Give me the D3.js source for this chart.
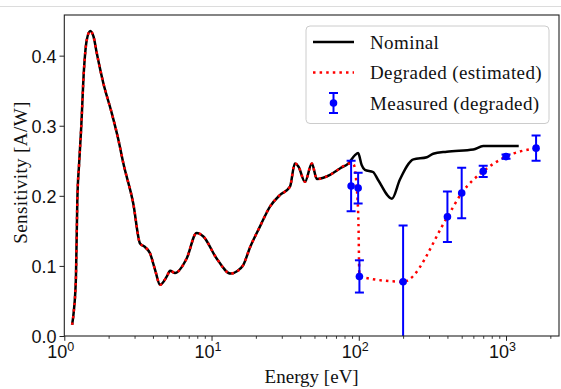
<!DOCTYPE html>
<html>
<head>
<meta charset="utf-8">
<script src="https://cdn.jsdelivr.net/npm/d3@7"></script>
<style>
  html, body { margin: 0; padding: 0; background: #fff; }
  svg { display: block; font-family: 'Liberation Serif', 'DejaVu Serif', serif; }
</style>
</head>
<body>
<div id="chart"></div>
<script>
// nominal sensitivity curve (energy in eV, sensitivity in A/W)
const nominalE = [1.13, 1.16, 1.20, 1.226, 1.26, 1.30, 1.36, 1.42, 1.50, 1.58, 1.66, 1.84, 2.10, 2.33,
  2.52, 2.94, 3.27, 3.53, 3.82, 4.14, 4.47, 4.97, 5.23, 5.65, 6.79, 7.92, 8.8, 10.8, 13.5, 14.8,
  16.4, 18.3, 21.3, 25.0, 29.1, 34.1, 36.8, 38.9, 43.1, 48.0, 51.9, 63.8, 74.5, 84.9, 94.2, 99,
  104.6, 110, 125, 135, 168, 190, 235, 290, 320, 396, 600, 700, 1220];
const nominalS = [0.016, 0.035, 0.085, 0.194, 0.245, 0.294, 0.380, 0.422, 0.435, 0.427, 0.404, 0.361, 0.318, 0.280,
  0.246, 0.189, 0.132, 0.127, 0.118, 0.094, 0.073, 0.085, 0.093, 0.090, 0.111, 0.147, 0.142, 0.111, 0.089, 0.092,
  0.101, 0.127, 0.156, 0.185, 0.201, 0.213, 0.246, 0.242, 0.220, 0.246, 0.224, 0.230, 0.239, 0.246, 0.258, 0.261,
  0.244, 0.237, 0.234, 0.223, 0.196, 0.223, 0.252, 0.255, 0.260, 0.263, 0.266, 0.271, 0.271];

// degraded (estimated): follows nominal up to ~85 eV, then this tail
const degradedSplitIndex = 44; // first 44 nominal points are shared
const degradedTailE = [92, 97, 99.5, 101, 200, 400, 500, 700, 1000, 1600];
const degradedTailS = [0.245, 0.21, 0.16, 0.085, 0.0775, 0.170, 0.204, 0.235, 0.256, 0.268];

// measured (degraded) points with error bars
const measuredE = [88.7, 99, 101, 200, 400, 500, 700, 1000, 1600];
const measuredS = [0.214, 0.211, 0.085, 0.0775, 0.170, 0.204, 0.235, 0.256, 0.268];
const measuredErr = [0.036, 0.022, 0.023, 0.080, 0.036, 0.036, 0.008, 0.003, 0.018];

const xTicks = [1, 10, 100, 1000];
const xTickExp = ['0', '1', '2', '3'];
const yTicks = [0, 0.1, 0.2, 0.3, 0.4];
const legendLabels = ['Nominal', 'Degraded (estimated)', 'Measured (degraded)'];

const W = 561, H = 389;
const margin = { top: 15, right: 2, bottom: 53, left: 64.3 };
const width = W - margin.left - margin.right;
const height = H - margin.top - margin.bottom;
const textColor = '#111';

const svg = d3.select('#chart').append('svg').attr('width', W).attr('height', H);

// faint line along the top of the page
svg.append('line')
  .attr('x1', 0).attr('x2', W).attr('y1', 6.5).attr('y2', 6.5)
  .attr('stroke', '#dcdcdc').attr('stroke-width', 1.2);

const g = svg.append('g').attr('transform', `translate(${margin.left},${margin.top})`);

const x = d3.scaleLog().domain([1, 2290]).range([0, width]);
const y = d3.scaleLinear().domain([0, 0.458]).range([height, 0]);

g.append('clipPath').attr('id', 'plotClip')
  .append('rect').attr('width', width).attr('height', height);

// minor x ticks
const minorTicks = [];
for (let dec = 1; dec <= 1000; dec *= 10) {
  for (let k = 2; k <= 9; k++) {
    if (k * dec < 2290) minorTicks.push(k * dec);
  }
}
g.append('g')
  .attr('transform', `translate(0,${height})`)
  .call(d3.axisBottom(x).tickValues(minorTicks).tickSize(2.8).tickFormat(''))
  .call((a) => a.select('.domain').remove())
  .selectAll('line').attr('stroke', '#222').attr('stroke-width', 0.9);

// major x ticks with superscript labels
const xAxis = g.append('g')
  .attr('transform', `translate(0,${height})`)
  .call(d3.axisBottom(x).tickValues(xTicks).tickSize(4.8).tickFormat(''));
xAxis.select('.domain').remove();
xAxis.selectAll('line').attr('stroke', '#222').attr('stroke-width', 1);
xAxis.selectAll('.tick').each(function (d, i) {
  const t = d3.select(this).append('text')
    .attr('y', 22).attr('x', -4)
    .attr('fill', textColor)
    .attr('font-size', 18)
    .attr('text-anchor', 'middle');
  t.append('tspan').text('10');
  t.append('tspan').attr('dy', -7).attr('font-size', 12.5).text(xTickExp[i]);
});

// y axis
const yAxis = g.append('g')
  .call(d3.axisLeft(y).tickValues(yTicks).tickSize(4.8).tickPadding(3).tickFormat(d3.format('.1f')));
yAxis.select('.domain').remove();
yAxis.selectAll('line').attr('stroke', '#222').attr('stroke-width', 1);
yAxis.selectAll('text')
  .attr('fill', textColor)
  .attr('font-size', 18)
  .attr('font-family', null)
  .attr('dy', '0.36em');

// axis labels
svg.append('text')
  .attr('x', margin.left + width / 2).attr('y', 383)
  .attr('text-anchor', 'middle').attr('font-size', 19).attr('fill', textColor)
  .text('Energy [eV]');
svg.append('text')
  .attr('transform', 'translate(26.5,172.5) rotate(-90)')
  .attr('text-anchor', 'middle').attr('font-size', 19).attr('letter-spacing', 0.4)
  .attr('fill', textColor)
  .text('Sensitivity [A/W]');

// data series
const nominal = nominalE.map((e, i) => [e, nominalS[i]]);
const degraded = nominal.slice(0, degradedSplitIndex)
  .concat(degradedTailE.map((e, i) => [e, degradedTailS[i]]));
const measured = measuredE.map((e, i) => ({ e: e, s: measuredS[i], err: measuredErr[i] }));

const line = d3.line().x((d) => x(d[0])).y((d) => y(d[1])).curve(d3.curveMonotoneX);

const plot = g.append('g').attr('clip-path', 'url(#plotClip)');

plot.append('path')
  .datum(nominal)
  .attr('d', line)
  .attr('fill', 'none')
  .attr('stroke', '#000')
  .attr('stroke-width', 2.5)
  .attr('stroke-linejoin', 'round');

plot.append('path')
  .datum(degraded)
  .attr('d', line)
  .attr('fill', 'none')
  .attr('stroke', '#ff0000')
  .attr('stroke-width', 2.5)
  .attr('stroke-dasharray', '2.5,4.1');

// error bars + markers
const blue = '#0000ff';
const cap = 4.5;
const eb = plot.selectAll('.eb').data(measured).join('g').attr('class', 'eb');
eb.append('line')
  .attr('x1', (d) => x(d.e)).attr('x2', (d) => x(d.e))
  .attr('y1', (d) => y(d.s - d.err)).attr('y2', (d) => y(d.s + d.err))
  .attr('stroke', blue).attr('stroke-width', 2);
eb.append('line')
  .attr('x1', (d) => x(d.e) - cap).attr('x2', (d) => x(d.e) + cap)
  .attr('y1', (d) => y(d.s + d.err)).attr('y2', (d) => y(d.s + d.err))
  .attr('stroke', blue).attr('stroke-width', 2);
eb.append('line')
  .attr('x1', (d) => x(d.e) - cap).attr('x2', (d) => x(d.e) + cap)
  .attr('y1', (d) => y(d.s - d.err)).attr('y2', (d) => y(d.s - d.err))
  .attr('stroke', blue).attr('stroke-width', 2);
eb.append('circle')
  .attr('cx', (d) => x(d.e)).attr('cy', (d) => y(d.s))
  .attr('r', 3.8).attr('fill', blue);

// frame
g.append('rect')
  .attr('width', width).attr('height', height)
  .attr('fill', 'none').attr('stroke', '#222').attr('stroke-width', 1.1);

// legend
const lg = svg.append('g');
lg.append('rect')
  .attr('x', 306).attr('y', 26).attr('width', 243).attr('height', 97.5).attr('rx', 4)
  .attr('fill', '#fff').attr('fill-opacity', 0.8)
  .attr('stroke', '#cccccc').attr('stroke-width', 1);
const rowY = [42, 72.5, 103];
lg.append('line').attr('x1', 313).attr('x2', 354).attr('y1', rowY[0]).attr('y2', rowY[0])
  .attr('stroke', '#000').attr('stroke-width', 2.5);
lg.append('line').attr('x1', 313).attr('x2', 354).attr('y1', rowY[1]).attr('y2', rowY[1])
  .attr('stroke', '#ff0000').attr('stroke-width', 2.5).attr('stroke-dasharray', '2.5,4.1');
const hx = 333.5;
lg.append('line').attr('x1', hx).attr('x2', hx).attr('y1', rowY[2] - 10).attr('y2', rowY[2] + 10)
  .attr('stroke', blue).attr('stroke-width', 2);
[rowY[2] - 10, rowY[2] + 10].forEach((yy) => {
  lg.append('line').attr('x1', hx - cap).attr('x2', hx + cap).attr('y1', yy).attr('y2', yy)
    .attr('stroke', blue).attr('stroke-width', 2);
});
lg.append('circle').attr('cx', hx).attr('cy', rowY[2]).attr('r', 3.8).attr('fill', blue);
legendLabels.forEach((label, i) => {
  lg.append('text')
    .attr('x', 370).attr('y', rowY[i]).attr('dy', '0.35em')
    .attr('font-size', 19).attr('letter-spacing', 0.4).attr('fill', textColor)
    .text(label);
});
</script>
</body>
</html>
